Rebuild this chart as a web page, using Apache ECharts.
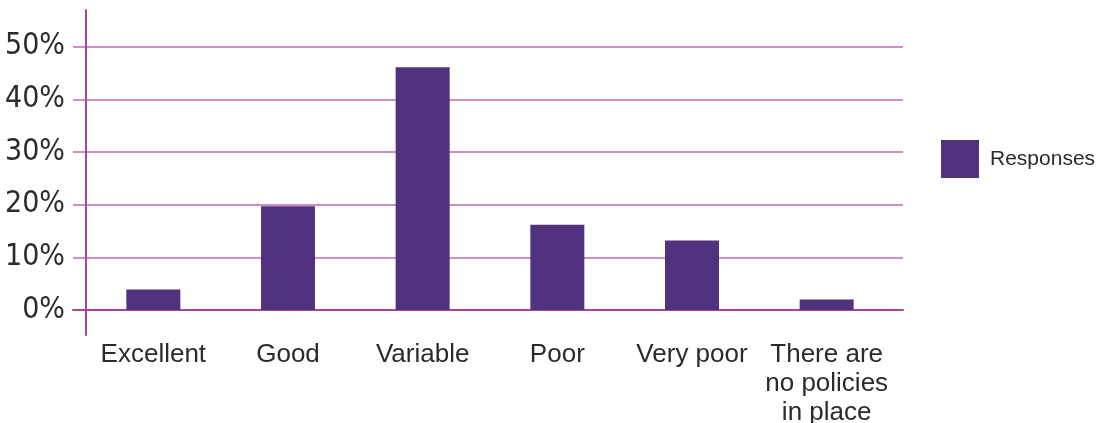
<!DOCTYPE html>
<html>
<head>
<meta charset="utf-8">
<script src="https://cdn.jsdelivr.net/npm/echarts@6/dist/echarts.min.js"></script>
<style>
  html, body { margin: 0; padding: 0; background: #ffffff; }
  #chart { width: 1096px; height: 423px; }
</style>
</head>
<body>
<div id="chart"></div>
<script>
// Ratings of policies, share of responses
const categories = ['Excellent', 'Good', 'Variable', 'Poor', 'Very poor', 'There are\nno policies\nin place'];
const responses = [3.9, 19.7, 46.1, 16.2, 13.2, 2.0];
const seriesName = 'Responses';
const yMin = 0, yMax = 50, yStep = 10;

const barColor = '#51327f';
const gridColor = '#d08fc2';
const axisColor = '#a8449a';
const textColor = '#2b2b2b';

const chart = echarts.init(document.getElementById('chart'), null, { renderer: 'canvas' });

// Fixed plot boxes: no automatic shrinking to fit labels
const fixed = { containLabel: false, outerBoundsMode: 'none' };

chart.setOption({
  animation: false,
  backgroundColor: '#ffffff',
  legend: {
    data: [seriesName],
    left: 936,
    top: 135,
    itemWidth: 38,
    itemHeight: 38,
    itemGap: 10,
    icon: 'rect',
    textStyle: { fontFamily: 'Liberation Sans', fontSize: 21, color: textColor, padding: [0, 0, 0, 6] }
  },
  grid: [
    // bars and category labels
    Object.assign({ left: 86, right: 202, top: 46.7, bottom: 113 }, fixed),
    // horizontal rules, a little wider than the plot
    Object.assign({ left: 73, right: 193, top: 46.7, bottom: 113 }, fixed),
    // vertical axis rule
    Object.assign({ left: 85.7, width: 1, top: 10, height: 325 }, fixed)
  ],
  xAxis: [
    {
      gridIndex: 0, type: 'category', data: categories,
      axisLine: { show: false }, axisTick: { show: false },
      axisLabel: {
        interval: 0, margin: 30, color: textColor,
        fontFamily: 'Liberation Sans', fontSize: 26, lineHeight: 29
      }
    },
    {
      gridIndex: 1, type: 'value', min: 0, max: 1,
      axisLine: { show: true, lineStyle: { color: axisColor, width: 2 } },
      axisTick: { show: false }, axisLabel: { show: false }, splitLine: { show: false }
    },
    {
      gridIndex: 2, type: 'value', min: 0, max: 1, show: false
    }
  ],
  yAxis: [
    {
      gridIndex: 0, type: 'value', min: yMin, max: yMax, interval: yStep,
      axisLine: { show: false }, axisTick: { show: false }, splitLine: { show: false },
      axisLabel: {
        margin: 21, color: textColor, formatter: '{value}%',
        fontFamily: '"DejaVu Sans Condensed", "DejaVu Sans"', fontSize: 30
      }
    },
    {
      gridIndex: 1, type: 'value', min: yMin, max: yMax, interval: yStep,
      axisLine: { show: false }, axisTick: { show: false }, axisLabel: { show: false },
      splitLine: { show: true, lineStyle: { color: gridColor, width: 2 } }
    },
    {
      gridIndex: 2, type: 'value', min: 0, max: 1,
      axisLine: { show: true, lineStyle: { color: axisColor, width: 2 } },
      axisTick: { show: false }, axisLabel: { show: false }, splitLine: { show: false }
    }
  ],
  series: [
    {
      name: seriesName,
      type: 'bar',
      xAxisIndex: 0, yAxisIndex: 0,
      data: responses,
      barWidth: 54,
      z: 5,
      itemStyle: { color: barColor }
    }
  ]
});
</script>
</body>
</html>
